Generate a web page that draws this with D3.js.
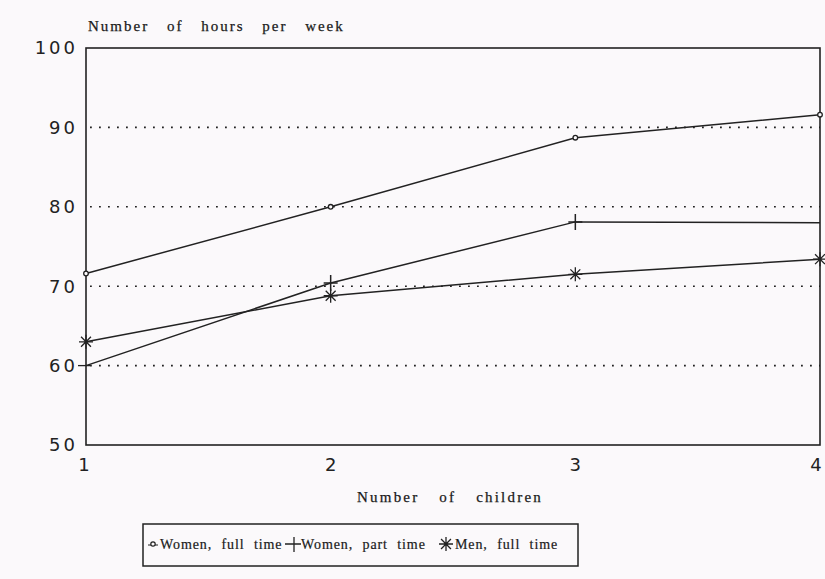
<!DOCTYPE html>
<html>
<head>
<meta charset="utf-8">
<script src="https://cdn.jsdelivr.net/npm/d3@7"></script>
<style>
  body { margin: 0; background: #fbf9fb; }
  svg { display: block; }
</style>
</head>
<body>
<div id="chart"></div>
<script>
// number of children on the x axis
const children = [1, 2, 3, 4];
const yTicks = [50, 60, 70, 80, 90, 100];
const gridTicks = [60, 70, 80, 90];

// hours per week
const womenFullTime = [71.6, 80.0, 88.7, 91.6];
const womenPartTime = [60.0, 70.4, 78.1, 78.0];
const menFullTime = [63.0, 68.8, 71.5, 73.4];

const seriesNames = ["Women, full time", "Women, part time", "Men, full time"];
const seriesShapes = ["circle", "plus", "star"];

function LineChart(elementId, {
  width = 825,
  height = 579,
  marginTop = 48,
  marginRight = 5,
  marginBottom = 134,
  marginLeft = 86,
} = {}) {
  const series = [womenFullTime, womenPartTime, menFullTime].map((values, k) => ({
    name: seriesNames[k],
    shape: seriesShapes[k],
    points: children.map((c, i) => [c, values[i]])
  }));

  const x = d3.scaleLinear([1, 4], [marginLeft, width - marginRight]);
  const y = d3.scaleLinear([50, 100], [height - marginBottom, marginTop]);

  const svg = d3.select("#" + elementId).append("svg")
      .attr("width", width)
      .attr("height", height)
      .attr("viewBox", [0, 0, width, height]);

  // dotted grid lines
  svg.append("g")
      .attr("stroke", "#222")
      .attr("stroke-width", 1.6)
      .attr("stroke-dasharray", "1.8,7.2")
    .selectAll("line")
    .data(gridTicks)
    .join("line")
      .attr("x1", x(1) + 4)
      .attr("x2", x(4))
      .attr("y1", d => y(d))
      .attr("y2", d => y(d));

  // plot frame
  svg.append("rect")
      .attr("x", x(1))
      .attr("y", y(100))
      .attr("width", x(4) - x(1))
      .attr("height", y(50) - y(100))
      .attr("fill", "none")
      .attr("stroke", "#222")
      .attr("stroke-width", 1.6);

  // y tick labels
  svg.append("g")
      .attr("font-family", "DejaVu Sans, sans-serif")
      .attr("font-size", 18)
      .attr("letter-spacing", 3)
      .attr("fill", "#222")
      .attr("text-anchor", "end")
    .selectAll("text")
    .data(yTicks)
    .join("text")
      .attr("x", x(1) - 8)
      .attr("y", d => y(d))
      .attr("dy", "0.36em")
      .text(d => d);

  // x tick labels
  svg.append("g")
      .attr("font-family", "DejaVu Sans, sans-serif")
      .attr("font-size", 18)
      .attr("fill", "#222")
      .attr("text-anchor", "middle")
    .selectAll("text")
    .data(children)
    .join("text")
      .attr("x", d => x(d) - (d === 4 ? 4 : d === 1 ? 2 : 0))
      .attr("y", y(50) + 26)
      .text(d => d);

  // axis titles
  svg.append("text")
      .attr("x", x(1) + 2)
      .attr("y", 31)
      .attr("font-family", "Liberation Serif, serif")
      .attr("font-size", 15)
      .attr("letter-spacing", 2)
      .attr("word-spacing", 12)
      .attr("fill", "#1a1a1a")
      .attr("stroke", "#1a1a1a")
      .attr("stroke-width", 0.25)
      .text("Number of hours per week");

  svg.append("text")
      .attr("x", 450)
      .attr("y", 502)
      .attr("text-anchor", "middle")
      .attr("font-family", "Liberation Serif, serif")
      .attr("font-size", 15)
      .attr("letter-spacing", 2.2)
      .attr("word-spacing", 14)
      .attr("fill", "#1a1a1a")
      .attr("stroke", "#1a1a1a")
      .attr("stroke-width", 0.25)
      .text("Number of children");

  const line = d3.line().x(d => x(d[0])).y(d => y(d[1]));

  svg.append("g")
      .attr("fill", "none")
      .attr("stroke", "#222")
      .attr("stroke-width", 1.5)
    .selectAll("path")
    .data(series)
    .join("path")
      .attr("d", d => line(d.points));

  function drawMarker(g, shape, cx, cy) {
    if (shape === "circle") {
      g.append("circle").attr("cx", cx).attr("cy", cy).attr("r", 2.3)
          .attr("fill", "#fbf9fb").attr("stroke", "#222").attr("stroke-width", 1.3);
    } else if (shape === "plus") {
      g.append("path").attr("d", `M${cx},${cy - 8}V${cy + 8}M${cx - 7},${cy}H${cx + 7}`)
          .attr("stroke", "#222").attr("stroke-width", 1.5);
    } else {
      const r = 7;
      const p = d3.range(4).map(k => {
        const a = k * Math.PI / 4;
        return `M${cx - r * Math.cos(a)},${cy - r * Math.sin(a)}L${cx + r * Math.cos(a)},${cy + r * Math.sin(a)}`;
      }).join("");
      g.append("path").attr("d", p).attr("stroke", "#222").attr("stroke-width", 1.3);
    }
  }

  const marks = svg.append("g");
  series.forEach(s => {
    s.points.forEach(p => {
      // the part time line at 1 child shows no marker, only a tick on the axis
      if (s.shape === "plus" && p[0] === 1) {
        marks.append("line").attr("x1", x(1) - 8).attr("x2", x(1) + 4)
            .attr("y1", y(p[1])).attr("y2", y(p[1]))
            .attr("stroke", "#222").attr("stroke-width", 1.3);
        return;
      }
      if (s.shape === "plus" && p[0] === 4) return;
      drawMarker(marks, s.shape, x(p[0]), y(p[1]));
    });
  });

  // legend
  const legend = svg.append("g");
  legend.append("rect")
      .attr("x", 143).attr("y", 524)
      .attr("width", 435).attr("height", 42)
      .attr("fill", "none")
      .attr("stroke", "#222")
      .attr("stroke-width", 1.5);

  const legendX = [152, 294, 446];
  const legendTextX = [160, 301, 455];
  series.forEach((s, k) => {
    const ly = 546;
    if (s.shape === "circle") {
      legend.append("line").attr("x1", legendX[k] - 4).attr("x2", legendX[k] + 6)
          .attr("y1", ly - 1).attr("y2", ly - 1).attr("stroke", "#222");
      legend.append("circle").attr("cx", legendX[k] + 1).attr("cy", ly - 2).attr("r", 2.2)
          .attr("fill", "#fbf9fb").attr("stroke", "#222").attr("stroke-width", 1.2);
    } else if (s.shape === "plus") {
      legend.append("path").attr("d", `M${legendX[k]},${ly - 9}V${ly + 6}M${legendX[k] - 9},${ly - 2}H${legendX[k] + 7}`)
          .attr("stroke", "#222").attr("stroke-width", 1.3);
    } else {
      drawMarker(legend, "star", legendX[k], ly - 2);
    }
    legend.append("text")
        .attr("x", legendTextX[k])
        .attr("y", ly + 3)
        .attr("font-family", "Liberation Serif, serif")
        .attr("font-size", 14)
        .attr("letter-spacing", 0.9)
        .attr("word-spacing", 5)
        .attr("fill", "#1a1a1a")
        .attr("stroke", "#1a1a1a")
        .attr("stroke-width", 0.2)
        .text(s.name);
  });
}

LineChart("chart");
</script>
</body>
</html>
